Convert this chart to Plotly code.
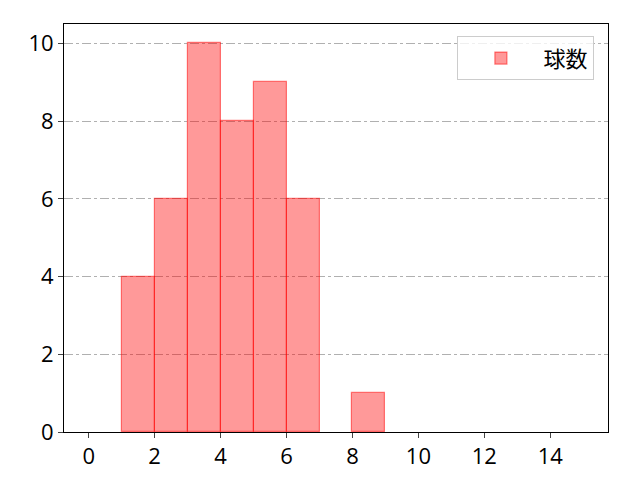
import plotly.graph_objects as go

bin_left = [0, 1, 2, 3, 4, 5, 6, 7, 8, 9, 10, 11, 12, 13, 14]
counts = [0, 4, 6, 10, 8, 9, 6, 0, 1, 0, 0, 0, 0, 0, 0]
series_name = "球数"
x_ticks = [0, 2, 4, 6, 8, 10, 12, 14]
y_ticks = [0, 2, 4, 6, 8, 10]

xs = [b + 0.5 for b, c in zip(bin_left, counts) if c > 0]
ys = [c for c in counts if c > 0]

fig = go.Figure()
fig.add_trace(go.Bar(
    x=xs, y=ys, width=1, name=series_name,
    marker=dict(color="rgba(255,0,0,0.4)", line=dict(color="rgba(255,0,0,0.5)", width=1.2)),
    showlegend=True,
))

tick_font = dict(family="Open Sans, Noto Sans", size=22, color="black")

fig.update_layout(
    width=640, height=480,
    margin=dict(l=56, r=40, t=16, b=56),
    paper_bgcolor="white", plot_bgcolor="white",
    font=dict(family="Noto Sans CJK JP", size=20, color="black"),
    bargap=0,
    legend=dict(
        x=0.975, y=0.97, xanchor="right", yanchor="top",
        bordercolor="#cccccc", borderwidth=1, bgcolor="rgba(255,255,255,0.8)",
        font=dict(family="Noto Sans CJK JP", size=22), itemwidth=75,
    ),
    xaxis=dict(
        range=[-0.75, 15.75], tickvals=x_ticks, ticks="outside", ticklen=5,
        showgrid=False, zeroline=False, showline=True, linecolor="black", linewidth=1,
        mirror=True, tickfont=tick_font,
    ),
    yaxis=dict(
        range=[0, 10.5], tickvals=y_ticks, ticks="outside", ticklen=5,
        showgrid=True, gridcolor="#b0b0b0", griddash="dashdot", gridwidth=1,
        zeroline=False, showline=True, linecolor="black", linewidth=1, mirror=True,
        tickfont=tick_font,
    ),
)

fig.write_html("out.html")
